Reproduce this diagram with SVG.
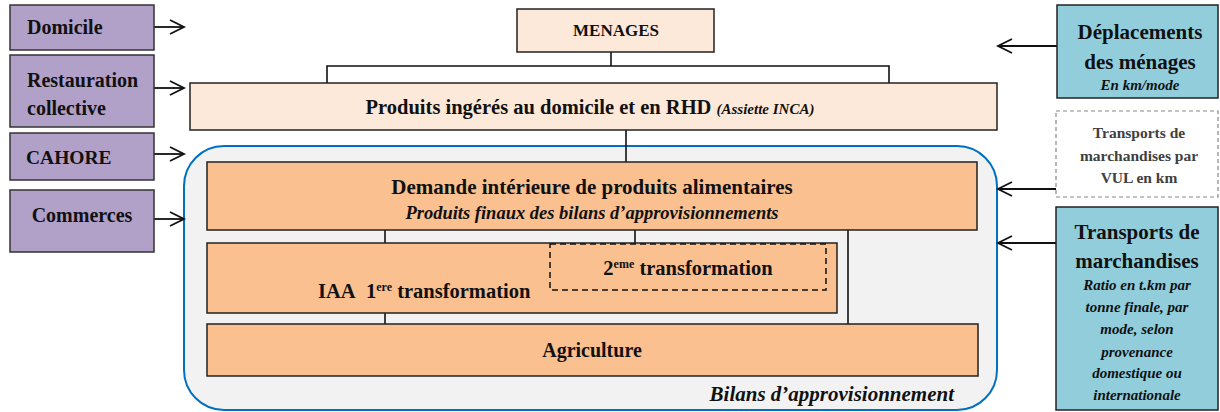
<svg xmlns="http://www.w3.org/2000/svg" width="1220" height="412" viewBox="0 0 1220 412" font-family="'Liberation Serif', 'DejaVu Serif', serif">
<defs>
<style>
text{font-family:'Liberation Serif','DejaVu Serif',serif;font-weight:bold;fill:#111;}
.it{font-style:italic;}
.c{text-anchor:middle;}
.purple{fill:#B1A0C7;stroke:#333;stroke-width:1.5;}
.peach{fill:#FDE9D9;stroke:#222;stroke-width:1.5;}
.orange{fill:#FAC090;stroke:#222;stroke-width:1.5;}
.blue{fill:#92CDDC;stroke:#222;stroke-width:1.5;}
.ln{stroke:#111;stroke-width:1.6;fill:none;}
.arr{stroke:#111;stroke-width:1.8;fill:none;marker-end:url(#chev);}
</style>
<marker id="chev" markerUnits="userSpaceOnUse" markerWidth="18" markerHeight="18" refX="15" refY="8" orient="auto">
<path d="M1,1 L15,8 L1,15" fill="none" stroke="#111" stroke-width="1.8"/>
</marker>
</defs>
<rect width="1220" height="412" fill="#fff"/>

<g id="bilans">
<rect x="184" y="146" width="813" height="264" rx="40" ry="40" fill="#F2F2F2" stroke="#0070C0" stroke-width="2"/>
<text class="it" x="954" y="401" text-anchor="end" font-size="21">Bilans d’approvisionnement</text>
</g>

<g id="connectors">
<polyline class="ln" points="611,52 611,66"/>
<polyline class="ln" points="327,83 327,66 889,66 889,83"/>
<line class="ln" x1="626" y1="130" x2="626" y2="162"/>
<line class="ln" x1="385" y1="230" x2="385" y2="243"/>
<line class="ln" x1="635" y1="230" x2="635" y2="244"/>
<line class="ln" x1="848" y1="230" x2="848" y2="324"/>
<line class="ln" x1="385" y1="313" x2="385" y2="324"/>
<line class="arr" x1="154" y1="27" x2="184" y2="27"/>
<line class="arr" x1="154" y1="88" x2="184" y2="88"/>
<line class="arr" x1="154" y1="154" x2="184" y2="154"/>
<line class="arr" x1="154" y1="219" x2="184" y2="219"/>
<line class="arr" x1="1057" y1="46" x2="998" y2="46"/>
<line class="arr" x1="1056" y1="189" x2="998" y2="189"/>
<line class="arr" x1="1056" y1="243" x2="998" y2="243"/>
</g>

<g id="domicile">
<rect class="purple" x="10" y="5" width="144" height="45"/>
<text x="27" y="34" font-size="20">Domicile</text>
</g>
<g id="restauration">
<rect class="purple" x="10" y="55" width="144" height="72"/>
<text x="27" y="87" font-size="20">Restauration</text>
<text x="27" y="115" font-size="20">collective</text>
</g>
<g id="cahore">
<rect class="purple" x="10" y="133" width="144" height="47"/>
<text x="26" y="164" font-size="19.5">CAHORE</text>
</g>
<g id="commerces">
<rect class="purple" x="10" y="190" width="144" height="62"/>
<text class="c" x="82" y="222" font-size="20">Commerces</text>
</g>

<g id="menages">
<rect class="peach" x="517" y="9" width="197" height="43"/>
<text class="c" x="616" y="36" font-size="17">MENAGES</text>
</g>

<g id="produits">
<rect class="peach" x="190" y="83" width="807" height="47"/>
<text class="c" x="590" y="114" font-size="20.5">Produits ingérés au domicile et en RHD <tspan class="it" font-size="15">(Assiette INCA)</tspan></text>
</g>

<g id="demande">
<rect class="orange" x="207" y="162" width="770" height="68"/>
<text class="c" x="592" y="194" font-size="21">Demande intérieure de produits alimentaires</text>
<text class="c it" x="592" y="219" font-size="18.5">Produits finaux des bilans d’approvisionnements</text>
</g>

<g id="iaa">
<rect class="orange" x="207" y="243" width="630" height="70"/>
<text x="318" y="298" font-size="20.5">IAA</text>
<text x="366" y="298" font-size="20.5">1<tspan font-size="12" dy="-7">ere</tspan><tspan dy="7"> transformation</tspan></text>
</g>
<g id="transfo2">
<rect x="550" y="244" width="276" height="46" fill="none" stroke="#111" stroke-width="1.5" stroke-dasharray="6,4"/>
<text class="c" x="688" y="275" font-size="20.5">2<tspan font-size="12" dy="-7">eme</tspan><tspan dy="7"> transformation</tspan></text>
</g>

<g id="agriculture">
<rect class="orange" x="207" y="324" width="771" height="52"/>
<text class="c" x="592" y="357" font-size="20">Agriculture</text>
</g>

<g id="deplacements">
<rect class="blue" x="1057" y="5" width="161" height="93"/>
<text class="c" x="1140" y="39" font-size="21">Déplacements</text>
<text class="c" x="1140" y="69" font-size="21">des ménages</text>
<text class="c it" x="1140" y="90" font-size="15">En km/mode</text>
</g>

<g id="vul">
<rect x="1056" y="111" width="162" height="86" fill="#fff" stroke="#888" stroke-width="1.2" stroke-dasharray="4,3"/>
<text class="c" x="1139" y="138" font-size="15.5" style="fill:#404040">Transports de</text>
<text class="c" x="1139" y="161" font-size="15.5" style="fill:#404040">marchandises par</text>
<text class="c" x="1139" y="183" font-size="15.5" style="fill:#404040">VUL en km</text>
</g>

<g id="transports">
<rect class="blue" x="1056" y="207" width="162" height="203"/>
<text class="c" x="1137" y="239" font-size="21">Transports de</text>
<text class="c" x="1137" y="268" font-size="21">marchandises</text>
<text class="c it" x="1137" y="290" font-size="15">Ratio en t.km par</text>
<text class="c it" x="1137" y="312" font-size="15">tonne finale, par</text>
<text class="c it" x="1137" y="334" font-size="15">mode, selon</text>
<text class="c it" x="1137" y="357" font-size="15">provenance</text>
<text class="c it" x="1137" y="378" font-size="15">domestique ou</text>
<text class="c it" x="1137" y="400" font-size="15">internationale</text>
</g>
</svg>
